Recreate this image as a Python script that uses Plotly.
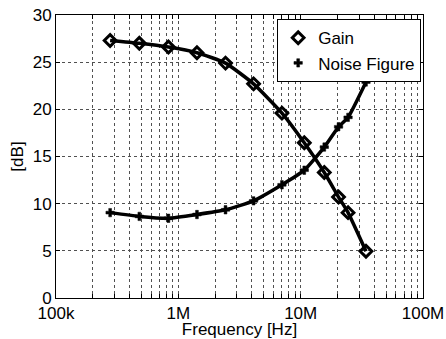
import plotly.graph_objects as go

freq_hz = [2.77e5, 4.8e5, 8.3e5, 1.42e6, 2.43e6, 4.12e6, 7.03e6, 1.07e7, 1.56e7, 2.04e7, 2.44e7, 3.42e7]
gain_db = [27.3, 27.0, 26.6, 26.0, 24.9, 22.7, 19.6, 16.45, 13.3, 10.7, 9.05, 4.95]
nf_db = [9.05, 8.65, 8.45, 8.85, 9.35, 10.3, 12.0, 13.55, 16.0, 18.15, 19.15, 22.9]

major_text = ["100k", "1M", "10M", "100M"]

tickvals, ticktext = [], []
for d in range(5, 8):
    for m in range(1, 10):
        tickvals.append(m * 10 ** d)
        ticktext.append(major_text[d - 5] if m == 1 else "")
tickvals.append(1e8)
ticktext.append("100M")

font = "Liberation Sans, Arial, sans-serif"
fs = 17

fig = go.Figure()
for ys in (gain_db, nf_db):
    fig.add_trace(go.Scatter(
        x=freq_hz, y=ys, mode="lines", showlegend=False, hoverinfo="skip",
        line=dict(color="black", width=3.5, shape="spline", smoothing=0.5),
    ))
fig.add_trace(go.Scatter(
    x=freq_hz, y=gain_db, name="Gain", mode="markers",
    marker=dict(symbol="diamond-open", size=9, color="black", line=dict(width=3, color="black")),
))
fig.add_trace(go.Scatter(
    x=freq_hz, y=nf_db, name="Noise Figure", mode="markers",
    marker=dict(symbol="cross", size=7, color="black", line=dict(width=0.5, color="black")),
))

axis_common = dict(
    showline=True, linecolor="black", linewidth=1, mirror="ticks",
    ticks="inside", ticklen=4, tickcolor="black",
    showgrid=True, gridcolor="#505050", griddash="dot", gridwidth=1,
    zeroline=False, tickfont=dict(family=font, size=fs, color="black"),
    automargin=False,
)

fig.update_xaxes(type="log", range=[5, 8], tickmode="array", tickvals=tickvals, ticktext=ticktext,
                 title=dict(text="Frequency [Hz]", font=dict(family=font, size=fs, color="black"), standoff=6),
                 **axis_common)
fig.update_yaxes(range=[0, 30], tickmode="linear", tick0=0, dtick=5,
                 title=dict(text="[dB]", font=dict(family=font, size=fs, color="black"), standoff=4),
                 **axis_common)

fig.update_layout(
    width=446, height=339,
    margin=dict(l=56, r=23, t=15, b=41),
    paper_bgcolor="white", plot_bgcolor="white",
    font=dict(family=font, size=fs, color="black"),
    showlegend=True,
    legend=dict(x=0.995, y=0.985, xanchor="right", yanchor="top",
                bgcolor="white", bordercolor="black", borderwidth=1,
                font=dict(family=font, size=fs, color="black"),
                itemwidth=30, tracegroupgap=0),
)

# remove the default 8px page margin so the figure fills the window exactly
fig.write_html("out.html",
               config={"displayModeBar": False},
               post_script="document.body.style.margin='0';document.body.style.overflow='hidden';")
